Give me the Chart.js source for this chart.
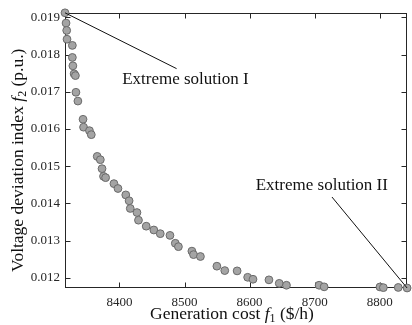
<!DOCTYPE html>
<html>
<head>
<meta charset="utf-8">
<script src="https://cdn.jsdelivr.net/npm/chart.js@4/dist/chart.umd.min.js"></script>
<style>
  html, body { margin: 0; padding: 0; background: #ffffff; }
  #wrap { width: 412px; height: 325px; }
</style>
</head>
<body>
<div id="wrap"><canvas id="c" width="412" height="325"></canvas></div>
<script>
// ---- data ----
const generationCost = [
  8316.3, 8317.9, 8318.9, 8319.4, 8327.6, 8327.6, 8328.4, 8330.3, 8332.3, 8333.1,
  8336.1, 8344.0, 8344.8, 8353.9, 8356.7, 8365.8, 8370.6, 8373.2, 8375.5, 8378.7,
  8391.5, 8397.7, 8409.7, 8414.8, 8416.6, 8426.9, 8429.2, 8441.1, 8452.8, 8462.7,
  8477.6, 8485.8, 8490.6, 8511.3, 8513.8, 8524.4, 8549.7, 8561.8, 8580.8, 8597.0,
  8605.2, 8629.7, 8645.5, 8656.6, 8706.8, 8714.5, 8800.3, 8805.5, 8828.4, 8842.0
];
const voltageDeviation = [
  0.019121, 0.018845, 0.018647, 0.018411, 0.018245, 0.017921, 0.017696, 0.017481, 0.017433, 0.016985,
  0.016749, 0.016259, 0.016047, 0.015953, 0.015846, 0.015262, 0.015173, 0.014932, 0.014726, 0.014691,
  0.014530, 0.014399, 0.014227, 0.014069, 0.013863, 0.013753, 0.013547, 0.013386, 0.013284, 0.013185,
  0.013139, 0.012927, 0.012836, 0.012716, 0.012622, 0.012571, 0.012311, 0.012193, 0.012185, 0.012013,
  0.011960, 0.011944, 0.011850, 0.011799, 0.011799, 0.011756, 0.011753, 0.011735, 0.011740, 0.011725
];
const xTickValues = [8400, 8500, 8600, 8700, 8800];
const yTickValues = [0.012, 0.013, 0.014, 0.015, 0.016, 0.017, 0.018, 0.019];

// annotation texts and anchors (data coordinates)
const annotationLabels = [
  { text: 'Extreme solution I',  x: 8404.1, y: 0.017326 },
  { text: 'Extreme solution II', x: 8609.4, y: 0.014485 }
];
const annotationLines = [
  { x1: 8316.3, y1: 0.019121, x2: 8487.8, y2: 0.017620 },
  { x1: 8726.5, y1: 0.014171, x2: 8842.0, y2: 0.011725 }
];

// ---- chart ----
const points = generationCost.map((x, i) => ({ x: x, y: voltageDeviation[i] }));
const INK = '#262626';
const SERIF = '"Liberation Serif", "Times New Roman", serif';

function drawRich(ctx, parts, x, y) {
  let cx = x;
  for (const p of parts) {
    ctx.font = p.font;
    ctx.fillText(p.text, cx, y + (p.dy || 0));
    cx += ctx.measureText(p.text).width;
  }
  return cx - x;
}

const framePlugin = {
  id: 'frame',
  beforeDatasetsDraw(chart) {
    const { ctx, chartArea: a, scales } = chart;
    ctx.save();
    ctx.strokeStyle = INK;
    ctx.lineWidth = 1;
    const L = Math.round(a.left) + 0.5, R = Math.round(a.right) - 0.5;
    const T = Math.round(a.top) + 0.5, B = Math.round(a.bottom) - 0.5;
    ctx.strokeRect(L, T, R - L, B - T);
    const tl = 5;
    ctx.beginPath();
    for (const v of xTickValues) {
      const px = Math.round(scales.x.getPixelForValue(v)) + 0.5;
      ctx.moveTo(px, B); ctx.lineTo(px, B - tl);
      ctx.moveTo(px, T); ctx.lineTo(px, T + tl);
    }
    for (const v of yTickValues) {
      const py = Math.round(scales.y.getPixelForValue(v)) + 0.5;
      ctx.moveTo(L, py); ctx.lineTo(L + tl, py);
      ctx.moveTo(R, py); ctx.lineTo(R - tl, py);
    }
    ctx.stroke();
    ctx.restore();
  },
  afterDraw(chart) {
    const { ctx, scales } = chart;
    ctx.save();
    ctx.strokeStyle = '#111111';
    ctx.lineWidth = 1;
    for (const ln of annotationLines) {
      ctx.beginPath();
      ctx.moveTo(scales.x.getPixelForValue(ln.x1), scales.y.getPixelForValue(ln.y1));
      ctx.lineTo(scales.x.getPixelForValue(ln.x2), scales.y.getPixelForValue(ln.y2));
      ctx.stroke();
    }
    ctx.fillStyle = '#111111';
    ctx.font = '17px ' + SERIF;
    ctx.textBaseline = 'middle';
    ctx.textAlign = 'left';
    for (const lb of annotationLabels) {
      ctx.fillText(lb.text, scales.x.getPixelForValue(lb.x), scales.y.getPixelForValue(lb.y));
    }
    ctx.textBaseline = 'alphabetic';
    const big = '17.5px ' + SERIF, ital = 'italic 17.5px ' + SERIF, sub = '12px ' + SERIF;
    const xParts = [
      { text: 'Generation cost ', font: big },
      { text: 'f', font: ital },
      { text: '1', font: sub, dy: 3 },
      { text: ' ($/h)', font: big }
    ];
    drawRich(ctx, xParts, 150, 319);
    const yParts = [
      { text: 'Voltage deviation index ', font: big },
      { text: 'f', font: ital },
      { text: '2', font: sub, dy: 3 },
      { text: ' (p.u.)', font: big }
    ];
    ctx.translate(23, 272);
    ctx.rotate(-Math.PI / 2);
    drawRich(ctx, yParts, 0, 0);
    ctx.restore();
  }
};

new Chart(document.getElementById('c'), {
  type: 'scatter',
  data: {
    datasets: [{
      data: points,
      backgroundColor: '#a4a4a4',
      borderColor: '#6a6a6a',
      borderWidth: 1,
      pointRadius: 3.9,
      pointHoverRadius: 3.9,
      clip: false
    }]
  },
  options: {
    responsive: false,
    animation: false,
    events: [],
    layout: { padding: { top: 12, right: 1, left: 0, bottom: 0 } },
    plugins: { legend: { display: false }, tooltip: { enabled: false } },
    scales: {
      x: {
        type: 'linear',
        min: Math.min(...generationCost),
        max: Math.max(...generationCost),
        afterBuildTicks: s => { s.ticks = xTickValues.map(v => ({ value: v })); },
        afterFit: s => { s.height = 37; },
        grid: { display: false, drawTicks: false },
        border: { display: false },
        ticks: {
          font: { family: SERIF, size: 13 },
          color: INK,
          padding: 7,
          maxRotation: 0,
          callback: v => String(v)
        }
      },
      y: {
        type: 'linear',
        min: Math.min(...voltageDeviation),
        max: Math.max(...voltageDeviation),
        afterBuildTicks: s => { s.ticks = yTickValues.map(v => ({ value: v })); },
        afterFit: s => { s.width = 65; },
        grid: { display: false, drawTicks: false },
        border: { display: false },
        ticks: {
          font: { family: SERIF, size: 13 },
          color: INK,
          padding: 5,
          callback: v => Number(v).toFixed(3)
        }
      }
    }
  },
  plugins: [framePlugin]
});
</script>
</body>
</html>
